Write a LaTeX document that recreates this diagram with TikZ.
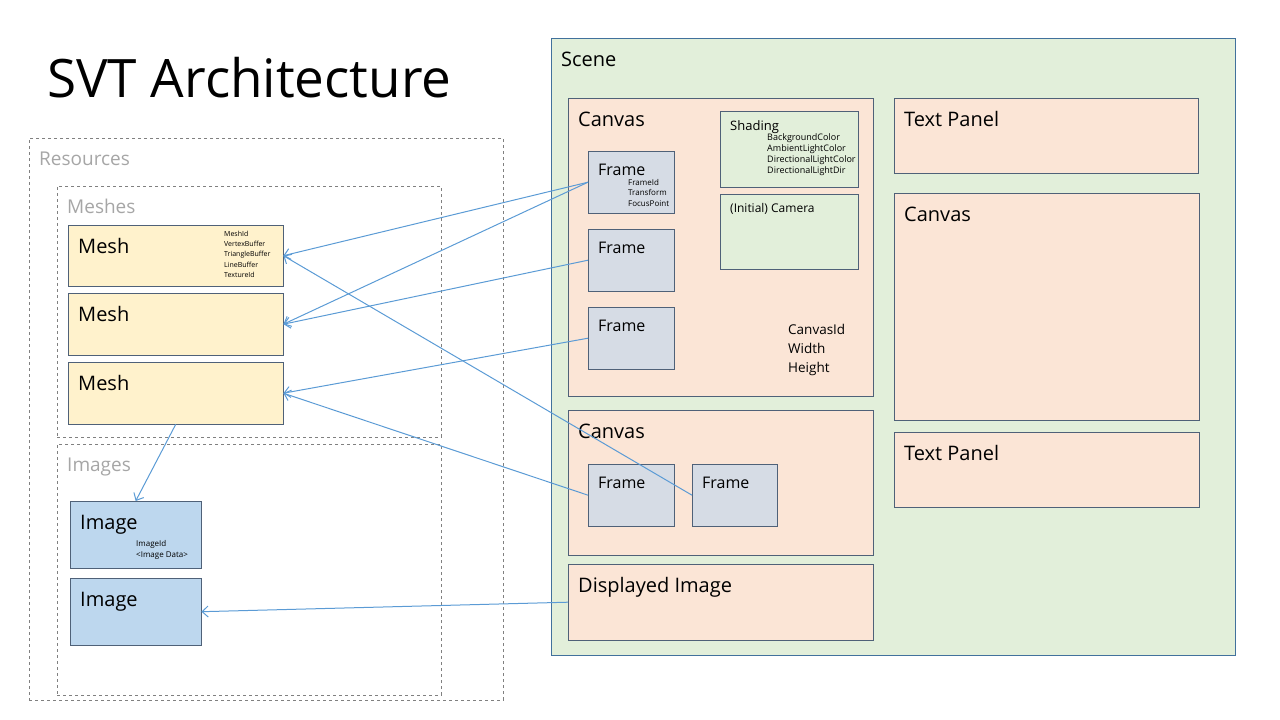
\documentclass[tikz,border=0pt]{standalone}
\usepackage{fontspec}
\setmainfont{Open Sans}
\usetikzlibrary{arrows.meta}
\usepackage{xcolor}

\definecolor{meshfill}{HTML}{FFF2CC}
\definecolor{imagefill}{HTML}{BDD7EE}
\definecolor{scenefill}{HTML}{E2EFDA}
\definecolor{canvasfill}{HTML}{FBE5D6}
\definecolor{framefill}{HTML}{D6DCE5}
\definecolor{boxline}{HTML}{4F6178}
\definecolor{sceneline}{HTML}{41719C}
\definecolor{linkblue}{HTML}{5B9BD5}
\definecolor{groupgray}{HTML}{A6A6A6}

\newcommand{\fs}[2]{\fontsize{#1}{#2}\selectfont}

\tikzset{
  box/.style 2 args={draw=boxline, minimum width=#1, minimum height=#2,
    anchor=north west, inner sep=0pt},
  group/.style 2 args={draw=gray, dashed, minimum width=#1, minimum height=#2,
    anchor=north west, inner sep=0pt},
  head/.style={label={[anchor=base west, inner sep=0pt, xshift=10pt, yshift=-28pt,
    font=\fs{20}{24}]north west:#1}},
  smallhead/.style={label={[anchor=base west, inner sep=0pt, xshift=10pt, yshift=-24pt,
    font=\fs{16}{19}]north west:#1}},
  grouphead/.style={label={[anchor=base west, inner sep=0pt, xshift=10pt, yshift=-27pt,
    text=groupgray, font=\fs{19}{23}]north west:#1}},
  detail/.style={anchor=north west, inner sep=0pt, align=left},
  link/.style={draw=linkblue, line width=1pt, -{Straight Barb[length=6pt, width=11pt]}},
}

\begin{document}
\begin{tikzpicture}[x=1pt, y=-1pt]
\useasboundingbox (0,0) rectangle (1280,720);
\node[anchor=base west, inner sep=0pt, font=\fs{53}{60}] (title) at (47,97) {SVT Architecture};

% resources side
\node[group={474pt}{562pt}, grouphead=Resources] (resources) at (29,138) {};
\node[group={384pt}{251pt}, grouphead=Meshes] (meshes) at (57,186) {};
\node[group={384pt}{251pt}, grouphead=Images] (images) at (57,444) {};

\node[box={215pt}{61pt}, fill=meshfill, head=Mesh] (mesh1) at (68,225) {};
\node[box={215pt}{62pt}, fill=meshfill, head=Mesh] (mesh2) at (68,293) {};
\node[box={215pt}{62pt}, fill=meshfill, head=Mesh] (mesh3) at (68,362) {};
\node[detail, font=\fs{7}{10.2}] (meshinfo) at (224,231)
  {MeshId\\VertexBuffer\\TriangleBuffer\\LineBuffer\\TextureId};

\node[box={131pt}{67pt}, fill=imagefill, head=Image] (image1) at (70,501) {};
\node[box={131pt}{67pt}, fill=imagefill, head=Image] (image2) at (70,578) {};
\node[detail, font=\fs{8}{11}] (imageinfo) at (136,540)
  {ImageId\\<Image Data>};

% scene side
\node[box={684pt}{617pt}, draw=sceneline, fill=scenefill, head=Scene] (scene) at (551,38) {};

\node[box={305pt}{298pt}, fill=canvasfill, head=Canvas] (canvas1) at (568,98) {};
\node[box={86pt}{62pt}, fill=framefill, smallhead=Frame] (frame1) at (588,151) {};
\node[box={86pt}{62pt}, fill=framefill, smallhead=Frame] (frame2) at (588,229) {};
\node[box={86pt}{62pt}, fill=framefill, smallhead=Frame] (frame3) at (588,307) {};
\node[detail, font=\fs{8}{10.5}] (frameinfo) at (628,179)
  {FrameId\\Transform\\FocusPoint};

\node[box={138pt}{76pt}, fill=scenefill] (shading) at (720,111) {};
\node[anchor=base west, inner sep=0pt, font=\fs{13}{15}] (shadingname) at (730,130) {Shading};
\node[detail, font=\fs{9}{11}] (shadinginfo) at (767,133)
  {BackgroundColor\\AmbientLightColor\\DirectionalLightColor\\DirectionalLightDir};
\node[box={138pt}{75pt}, fill=scenefill] (camera) at (720,194) {};
\node[anchor=base west, inner sep=0pt, font=\fs{12}{14}] (cameraname) at (730,212) {(Initial) Camera};
\node[detail, font=\fs{13.5}{19}] (canvasinfo) at (788,324)
  {CanvasId\\Width\\Height};

\node[box={305pt}{145pt}, fill=canvasfill, head=Canvas] (canvas2) at (568,410) {};
\node[box={86pt}{62pt}, fill=framefill, smallhead=Frame] (frame4) at (588,464) {};
\node[box={85pt}{62pt}, fill=framefill, smallhead=Frame] (frame5) at (692,464) {};

\node[box={305pt}{76pt}, fill=canvasfill, head=Displayed Image] (display) at (568,564) {};

\node[box={304pt}{75pt}, fill=canvasfill, head=Text Panel] (panel1) at (894,98) {};
\node[box={305pt}{227pt}, fill=canvasfill, head=Canvas] (canvas3) at (894,193) {};
\node[box={305pt}{75pt}, fill=canvasfill, head=Text Panel] (panel2) at (894,432) {};

% links
\draw[link] (frame1.west) -- (mesh1.east);
\draw[link] (frame1.west) -- (mesh2.east);
\draw[link] (frame2.west) -- (mesh2.east);
\draw[link] (frame3.west) -- (mesh3.east);
\draw[link] (frame4.west) -- (mesh3.east);
\draw[link] (frame5.west) -- (mesh1.east);
\draw[link] (mesh3.south) -- (image1.north);
\draw[link] (display.west) -- (image2.east);
\end{tikzpicture}
\end{document}
